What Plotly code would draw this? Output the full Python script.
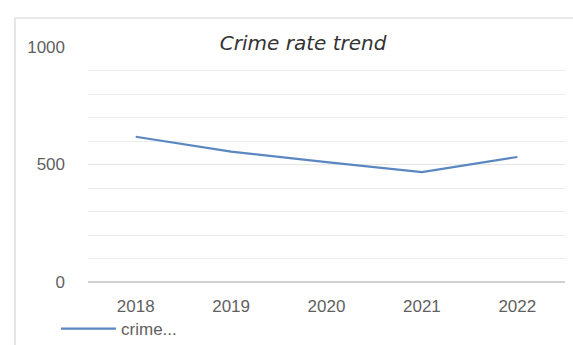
import plotly.graph_objects as go

years = ["2018", "2019", "2020", "2021", "2022"]
crime_rate = [618, 555, 510, 468, 532]
series_name = "crime..."
title_text = "Crime rate trend"
y_tick_vals = [0, 500, 1000]
y_tick_text = ["0", "500", "1000"]

fig = go.Figure()
fig.add_trace(go.Scatter(
    x=years, y=crime_rate, mode="lines", name=series_name,
    line=dict(color="#5b87c0", width=2.2),
))

fig.update_layout(
    width=573, height=345,
    margin=dict(l=88, r=8, t=47, b=63, autoexpand=False),
    paper_bgcolor="white", plot_bgcolor="white",
    font=dict(family="Liberation Sans, Arial, sans-serif", size=17, color="#5f5f5f"),
    title=dict(
        text=title_text, x=0.451, xref="paper", xanchor="center",
        y=1 - 43 / 345, yref="container", yanchor="middle",
        font=dict(family="DejaVu Sans", size=20, color="#333333", style="italic"),
    ),
    showlegend=True,
    legend=dict(
        orientation="h", x=-0.067, xanchor="left", y=-0.2, yanchor="middle",
        itemwidth=55, font=dict(size=17, color="#5f5f5f"),
        bgcolor="rgba(0,0,0,0)",
    ),
    xaxis=dict(
        type="category", range=[-0.5, 4.5], showgrid=False, showline=False,
        zeroline=False, ticks="", ticklabelstandoff=12, fixedrange=True,
    ),
    yaxis=dict(
        range=[0, 1000], tickvals=y_tick_vals, ticktext=y_tick_text,
        showgrid=True, gridcolor="#e6e6e6", gridwidth=1,
        minor=dict(dtick=100, showgrid=True, gridcolor="#ececec", gridwidth=1),
        zeroline=True, zerolinecolor="#d0d0d0", zerolinewidth=1.5,
        showline=False, ticks="", ticklabelstandoff=22, fixedrange=True,
    ),
    shapes=[dict(
        type="rect", xref="paper", yref="paper",
        x0=(15 - 88) / 477, x1=1.2, y0=-0.6, y1=(282 - 18) / 235,
        line=dict(color="#d6d6d6", width=1.2), fillcolor="rgba(0,0,0,0)",
        layer="below",
    )],
)

fig.write_html("out.html")
